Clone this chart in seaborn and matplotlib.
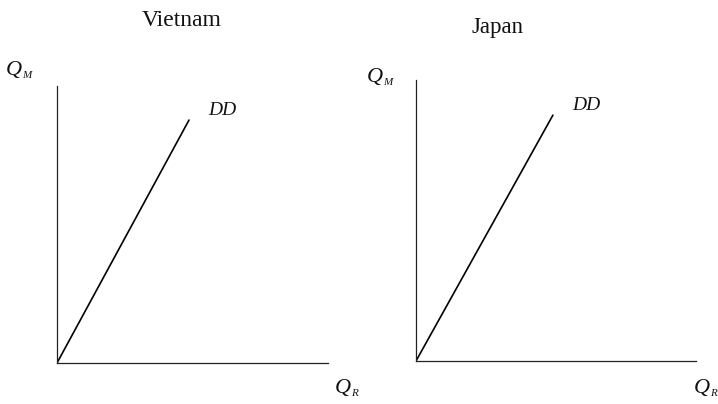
import numpy as np
import pandas as pd
import matplotlib
matplotlib.use("Agg")
import matplotlib.pyplot as plt
import seaborn as sns

# ── Data ──────────────────────────────────────────────────────────────────────
countries = ["Vietnam", "Japan"]
dd_qr_vietnam = [0.0, 4.87]   # relative demand line DD, x = Q_R
dd_qm_vietnam = [0.0, 8.77]   # y = Q_M
dd_qr_japan = [0.0, 4.89]
dd_qm_japan = [0.0, 8.75]

# ── Figure ────────────────────────────────────────────────────────────────────
sns.set_theme(style="white")
plt.rcParams["font.family"] = ["Liberation Serif", "DejaVu Serif"]

W, H = 718, 404
fig = plt.figure(figsize=(W / 100, H / 100), dpi=100)
fig.patch.set_facecolor("white")


def px_axes(x0, y_top, x1, y_bot):
    return fig.add_axes([x0 / W, 1 - y_bot / H, (x1 - x0) / W, (y_bot - y_top) / H])


panels = [
    dict(ax=px_axes(57, 86, 328, 363), x=dd_qr_vietnam, y=dd_qm_vietnam),
    dict(ax=px_axes(416, 80, 696, 361), x=dd_qr_japan, y=dd_qm_japan),
]

for p in panels:
    ax = p["ax"]
    df = pd.DataFrame({"QR": p["x"], "QM": p["y"]})
    sns.lineplot(data=df, x="QR", y="QM", ax=ax, color="black", linewidth=1.2)
    ax.set_xlim(0, 10)
    ax.set_ylim(0, 10)
    ax.set_xticks([])
    ax.set_yticks([])
    ax.set_xlabel("")
    ax.set_ylabel("")
    ax.set_facecolor("none")
    for side in ["top", "right"]:
        ax.spines[side].set_visible(False)
    for side in ["left", "bottom"]:
        ax.spines[side].set_color("#222222")
        ax.spines[side].set_linewidth(0.9)
    ax.text(p["x"][1] + 0.7, p["y"][1] + 0.05, "DD", style="italic",
            fontsize=14, ha="left", va="bottom", color="#111111")


def ftext(x, y, s, **kw):
    fig.text(x / W, 1 - y / H, s, color="#111111", **kw)


def qlabel(x, y_base, sub):
    # italic Q with a small italic subscript, baseline at y_base (pixels)
    ftext(x, y_base, "Q", fontsize=16, style="italic", ha="left", va="baseline")
    ftext(x + 16, y_base + 3, sub, fontsize=8, style="italic", ha="left", va="baseline")


ftext(182, 20, countries[0], fontsize=17, ha="center", va="center")
ftext(497, 27, countries[1], fontsize=16.5, ha="center", va="center")
qlabel(6, 75, "M")
qlabel(367, 82, "M")
qlabel(335, 393, "R")
qlabel(694, 393, "R")

fig.savefig("out.png", dpi=100, facecolor="white")
